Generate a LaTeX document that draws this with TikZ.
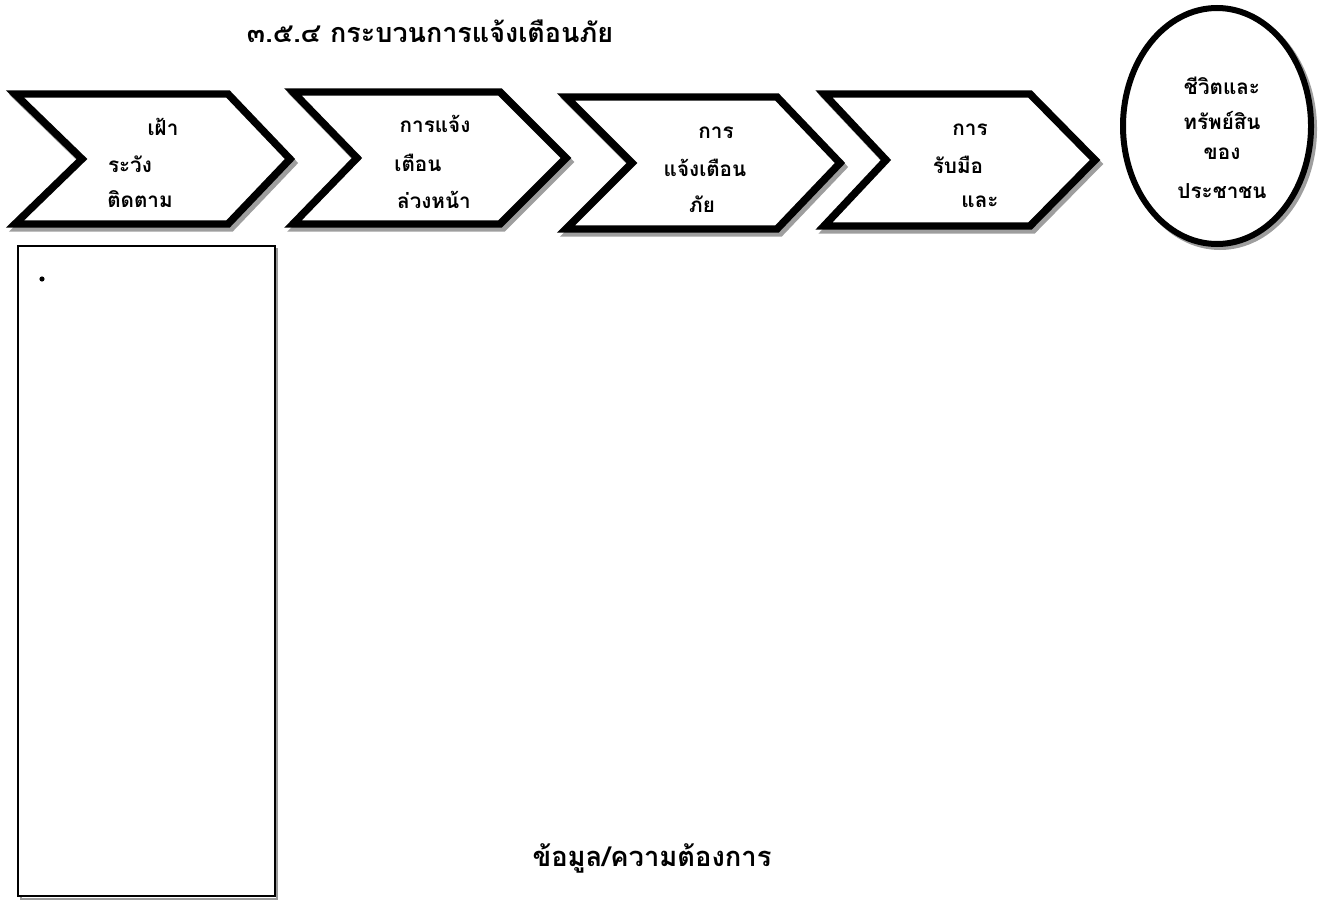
\documentclass[tikz,border=0pt]{standalone}
\usepackage{fontspec}
\newfontfamily\thaifont[Script=Thai]{Loma}
\begin{document}
\begin{tikzpicture}[x=0.75pt,y=-0.75pt,
  chev/.style={draw=black,line width=5.6pt,line join=miter,fill=white},
  shad/.style={draw=black!38,line width=5.6pt,line join=miter},
  lbl/.style={font=\thaifont\bfseries\fontsize{15.5}{17}\selectfont,inner sep=0pt,anchor=center},
  ttl/.style={font=\thaifont\bfseries\fontsize{20.2}{22}\selectfont,inner sep=0pt}]
\useasboundingbox (0,0) rectangle (1330,899);
% shadows
\foreach \l/\n/\r/\t/\tp/\yt/\yb in {15/82/228/290/159/94/224, 293/357/500/566/158/92/224, 566/632/777/840/163/97/229, 824/886/1030/1095/160/94/226}{
  \draw[shad,shift={(3,4)}] (\l,\yt) -- (\r,\yt) -- (\t,\tp) -- (\r,\yb) -- (\l,\yb) -- (\n,\tp) -- cycle;
}
\draw[draw=black!38,line width=4.5pt] (1220,129) ellipse (94 and 118);
% chevrons
\foreach \l/\n/\r/\t/\tp/\yt/\yb in {15/82/228/290/159/94/224, 293/357/500/566/158/92/224, 566/632/777/840/163/97/229, 824/886/1030/1095/160/94/226}{
  \draw[chev] (\l,\yt) -- (\r,\yt) -- (\t,\tp) -- (\r,\yb) -- (\l,\yb) -- (\n,\tp) -- cycle;
}
\draw[draw=black,line width=4.5pt,fill=white] (1217,126) ellipse (94 and 118);
% title
\node[ttl] (title) at (430,31) {๓.๕.๔ กระบวนการแจ้งเตือนภัย};
% chevron 1
\node[lbl] (a1) at (163,127) {เฝ้า};
\node[lbl] (a2) at (130,164) {ระวัง};
\node[lbl] (a3) at (140,199) {ติดตาม};
% chevron 2
\node[lbl] (b1) at (435,124) {การแจ้ง};
\node[lbl] (b2) at (418,163) {เตือน};
\node[lbl] (b3) at (434,200) {ล่วงหน้า};
% chevron 3
\node[lbl] (c1) at (716,133) {การ};
\node[lbl] (c2) at (705,168) {แจ้งเตือน};
\node[lbl] (c3) at (702,204) {ภัย};
% chevron 4
\node[lbl] (d1) at (970,130) {การ};
\node[lbl] (d2) at (958,165) {รับมือ};
\node[lbl] (d3) at (980,202) {และ};
% ellipse
\node[lbl] (e1) at (1222,86) {ชีวิตและ};
\node[lbl] (e2) at (1222,120) {ทรัพย์สิน};
\node[lbl] (e3) at (1222,154) {ของ};
\node[lbl] (e4) at (1222,191) {ประชาชน};
% box
\draw[draw=black!40,line width=1.5pt] (21,249) rectangle (277,899);
\draw[draw=black,line width=1.5pt,fill=white] (18,246) rectangle (275,896);
\fill (42,279) circle (2.6);
% bottom label
\node[lbl,font=\thaifont\bfseries\fontsize{20.5}{22}\selectfont] (f) at (652,858) {ข้อมูล/ความต้องการ};
\end{tikzpicture}
\end{document}
